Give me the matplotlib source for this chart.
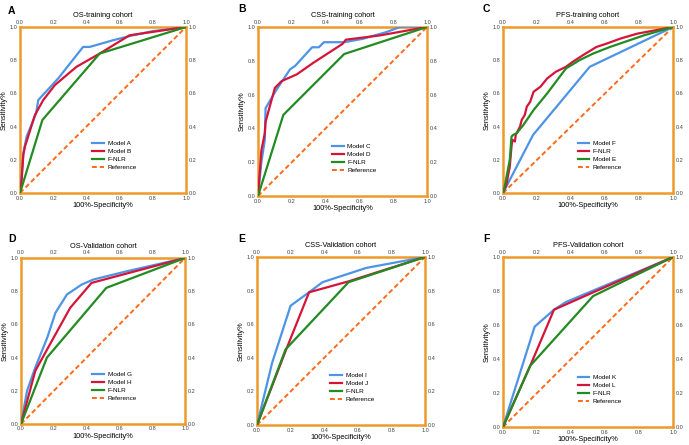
import matplotlib.pyplot as plt

plt.rcParams['font.family'] = ['Liberation Sans', 'DejaVu Sans']

W, H = 689, 445

# panel A: OS-training cohort
a_blue_x = [0, 0.01, 0.02, 0.04, 0.097, 0.11, 0.23, 0.38, 0.42, 0.56, 0.68, 0.8, 1.0]
a_blue_y = [0, 0.10, 0.24, 0.34, 0.48, 0.56, 0.69, 0.88, 0.88, 0.92, 0.95, 0.975, 1.0]
a_red_x = [0, 0.01, 0.02, 0.03, 0.09, 0.14, 0.21, 0.34, 0.48, 0.66, 1.0]
a_red_y = [0, 0.08, 0.23, 0.28, 0.47, 0.56, 0.65, 0.76, 0.84, 0.95, 1.0]
a_green_x = [0, 0.135, 0.48, 1.0]
a_green_y = [0, 0.44, 0.84, 1.0]

# panel B: CSS-training cohort
b_blue_x = [0, 0.02, 0.04, 0.043, 0.045, 0.11, 0.19, 0.22, 0.32, 0.36, 0.39, 0.51, 0.62, 0.76, 0.84, 1.0]
b_blue_y = [0, 0.20, 0.33, 0.45, 0.52, 0.63, 0.75, 0.77, 0.88, 0.88, 0.91, 0.91, 0.93, 0.97, 1.0, 1.0]
b_red_x = [0, 0.02, 0.04, 0.045, 0.10, 0.14, 0.23, 0.33, 0.50, 0.52, 0.72, 1.0]
b_red_y = [0, 0.27, 0.37, 0.44, 0.64, 0.68, 0.72, 0.79, 0.90, 0.925, 0.95, 1.0]
b_green_x = [0, 0.15, 0.51, 1.0]
b_green_y = [0, 0.48, 0.84, 1.0]

# panel C: PFS-training cohort
c_blue_x = [0, 0.177, 0.51, 1.0]
c_blue_y = [0, 0.35, 0.76, 1.0]
c_red_x = [0, 0.02, 0.04, 0.05, 0.055, 0.07, 0.075, 0.10, 0.11, 0.128, 0.14, 0.16, 0.18,
           0.22, 0.26, 0.31, 0.37, 0.41, 0.47, 0.55, 0.61, 0.69, 0.79, 1.0]
c_red_y = [0, 0.05, 0.16, 0.28, 0.32, 0.31, 0.35, 0.40, 0.44, 0.47, 0.52, 0.55, 0.61,
           0.64, 0.69, 0.73, 0.76, 0.79, 0.83, 0.88, 0.90, 0.93, 0.96, 1.0]
c_green_x = [0, 0.01, 0.04, 0.05, 0.06, 0.08, 0.12, 0.18, 0.26, 0.37, 0.45, 0.53, 0.63, 0.83, 1.0]
c_green_y = [0, 0.04, 0.20, 0.34, 0.35, 0.36, 0.41, 0.50, 0.60, 0.75, 0.80, 0.84, 0.88, 0.95, 1.0]

# panel D: OS-Validation cohort
d_blue_x = [0, 0.037, 0.087, 0.16, 0.21, 0.28, 0.37, 0.44, 0.645, 1.0]
d_blue_y = [0, 0.20, 0.34, 0.52, 0.67, 0.78, 0.84, 0.87, 0.92, 1.0]
d_red_x = [0, 0.087, 0.21, 0.30, 0.43, 1.0]
d_red_y = [0, 0.32, 0.54, 0.70, 0.85, 1.0]
d_green_x = [0, 0.158, 0.52, 1.0]
d_green_y = [0, 0.40, 0.82, 1.0]

# panel E: CSS-Validation cohort
e_blue_x = [0, 0.09, 0.20, 0.31, 0.39, 0.65, 1.0]
e_blue_y = [0, 0.37, 0.71, 0.79, 0.85, 0.935, 1.0]
e_red_x = [0, 0.17, 0.31, 0.545, 1.0]
e_red_y = [0, 0.44, 0.79, 0.855, 1.0]
e_green_x = [0, 0.17, 0.545, 1.0]
e_green_y = [0, 0.45, 0.85, 1.0]

# panel F: PFS-Validation cohort
f_blue_x = [0, 0.186, 0.30, 0.37, 1.0]
f_blue_y = [0, 0.59, 0.69, 0.735, 1.0]
f_red_x = [0, 0.16, 0.30, 1.0]
f_red_y = [0, 0.36, 0.69, 1.0]
f_green_x = [0, 0.16, 0.53, 1.0]
f_green_y = [0, 0.36, 0.77, 1.0]

blue, red, green, orange = '#4d94e6', '#d4153a', '#228b22', '#ff6a1a'
frame = '#ee9a2a'

panels = [
    ('A', 'OS-training cohort', (20, 27, 186, 193), (8, 14),
     [(a_blue_x, a_blue_y, blue, 'Model A'), (a_red_x, a_red_y, red, 'Model B'),
      (a_green_x, a_green_y, green, 'F-NLR')]),
    ('B', 'CSS-training cohort', (258, 27, 427, 196), (238, 12),
     [(b_blue_x, b_blue_y, blue, 'Model C'), (b_red_x, b_red_y, red, 'Model D'),
      (b_green_x, b_green_y, green, 'F-NLR')]),
    ('C', 'PFS-training cohort', (503, 27, 673, 193), (483, 12),
     [(c_blue_x, c_blue_y, blue, 'Model F'), (c_red_x, c_red_y, red, 'F-NLR'),
      (c_green_x, c_green_y, green, 'Model E')]),
    ('D', 'OS-Validation cohort', (21, 258, 185, 424), (8, 242),
     [(d_blue_x, d_blue_y, blue, 'Model G'), (d_red_x, d_red_y, red, 'Model H'),
      (d_green_x, d_green_y, green, 'F-NLR')]),
    ('E', 'CSS-Validation cohort', (257, 257, 425, 425), (238, 242),
     [(e_blue_x, e_blue_y, blue, 'Model I'), (e_red_x, e_red_y, red, 'Model J'),
      (e_green_x, e_green_y, green, 'F-NLR')]),
    ('F', 'PFS-Validation cohort', (503, 257, 673, 427), (483, 242),
     [(f_blue_x, f_blue_y, blue, 'Model K'), (f_red_x, f_red_y, red, 'Model L'),
      (f_green_x, f_green_y, green, 'F-NLR')]),
]

fig = plt.figure(figsize=(W / 100, H / 100), dpi=100)
ticks = [0, 0.2, 0.4, 0.6, 0.8, 1.0]

for letter, title, (x0, y0, x1, y1), (lx, ly), curves in panels:
    ax = fig.add_axes([x0 / W, 1 - y1 / H, (x1 - x0) / W, (y1 - y0) / H])
    for xs, ys, c, lab in curves:
        ax.plot(xs, ys, color=c, lw=1.6, label=lab, zorder=3)
    ax.plot([0, 1], [0, 1], color=orange, lw=1.4, ls=(0, (2.5, 1.5)), label='Reference', zorder=2)
    ax.set_xlim(0, 1)
    ax.set_ylim(0, 1)
    ax.set_xticks(ticks)
    ax.set_yticks(ticks)
    ax.set_xticklabels(['%.1f' % t for t in ticks])
    ax.set_yticklabels(['%.1f' % t for t in ticks])
    ax.tick_params(labelsize=4.0, length=0, pad=1.8, colors='#444444',
                   top=True, right=True, labeltop=True, labelright=True)
    for s in ax.spines.values():
        s.set_color(frame)
        s.set_linewidth(1.8)
    ax.set_xlabel('100%-Specificity%', fontsize=5.3, labelpad=1)
    ax.set_ylabel('Sensitivity%', fontsize=5.3, labelpad=1.5)
    ax.set_title(title, fontsize=5.3, pad=2)
    ax.legend(loc='lower center', bbox_to_anchor=(0.57, 0.11), frameon=False,
              fontsize=4.6, handlelength=1.8, labelspacing=0.4, borderpad=0.2,
              handletextpad=0.6)
    fig.text(lx / W, 1 - ly / H, letter, fontsize=7.5, fontweight='bold', va='baseline')

fig.savefig('out.png', dpi=100)
